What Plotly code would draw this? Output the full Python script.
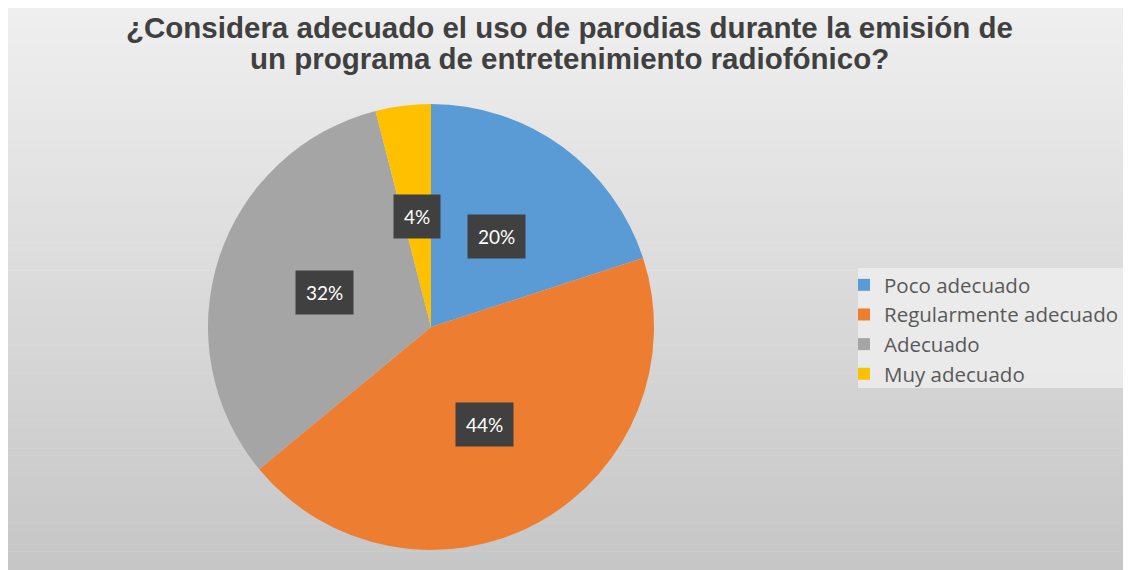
import math
import plotly.graph_objects as go

# data
categories = ['Poco adecuado', 'Regularmente adecuado', 'Adecuado', 'Muy adecuado']
percentages = [20, 44, 32, 4]
slice_colors = ['#5B9BD5', '#ED7D31', '#A5A5A5', '#FFC000']

title_lines = ['¿Considera adecuado el uso de parodias durante la emisión de',
               'un programa de entretenimiento radiofónico?']

# the page body adds an 8px margin, so the figure is 8px smaller
W, H = 1123, 562

# pie geometry in figure pixels
cx, cy, R = 423, 319, 223

fig = go.Figure()

fig.add_trace(
    go.Pie(
        labels=categories,
        values=percentages,
        marker=dict(colors=slice_colors, line=dict(width=0)),
        sort=False,
        direction='clockwise',
        rotation=0,
        textinfo='none',
        hoverinfo='label+percent',
        domain=dict(x=[(cx - R) / W, (cx + R) / W],
                    y=[1 - (cy + R) / H, 1 - (cy - R) / H]),
    )
)

# background: vertical gray gradient
shapes = []
n_bands = 60
c_top, c_bot = 239, 198
for i in range(n_bands):
    y1 = 1 - i / n_bands
    y0 = 1 - (i + 1) / n_bands
    g = round(c_top + (c_bot - c_top) * (i + 0.5) / n_bands)
    shapes.append(dict(type='rect', xref='paper', yref='paper',
                       x0=0, x1=1, y0=y0 - 0.001, y1=y1,
                       fillcolor=f'rgb({g},{g},{g})', line=dict(width=0),
                       layer='below'))

# legend backdrop
shapes.append(dict(type='rect', xref='paper', yref='paper',
                   x0=850 / W, x1=1, y0=1 - 380 / H, y1=1 - 260 / H,
                   fillcolor='rgba(240,240,240,0.75)', line=dict(width=0),
                   layer='below'))

annotations = []

# title, one annotation per line to keep the tight line spacing
for i, line in enumerate(title_lines):
    annotations.append(dict(
        x=0.5, y=1 - (19 + 32 * i) / H, xref='paper', yref='paper',
        text=line, showarrow=False, xanchor='center', yanchor='middle',
        font=dict(family='Liberation Sans', size=29.5, color='#404040', weight='bold'),
    ))

# percentage labels in dark boxes, placed at half radius on each slice's mid angle
total = sum(percentages)
cum = 0
for p in percentages:
    mid = (cum + p / 2) / total * 2 * math.pi
    cum += p
    lx = cx + 0.5 * R * math.sin(mid)
    ly = cy - 0.5 * R * math.cos(mid)
    annotations.append(dict(
        x=lx / W, y=1 - ly / H, xref='paper', yref='paper',
        text=f'{p}%', showarrow=False,
        font=dict(family='Lato', size=19, color='white'),
        bgcolor='#404040', borderpad=10,
        xanchor='center', yanchor='middle',
    ))

fig.update_layout(
    width=W, height=H,
    margin=dict(l=0, r=0, t=0, b=0),
    paper_bgcolor='white',
    plot_bgcolor='rgba(0,0,0,0)',
    showlegend=True,
    legend=dict(x=836 / W, xanchor='left', y=1 - 257 / H, yanchor='top',
                bgcolor='rgba(0,0,0,0)',
                font=dict(family='Open Sans', size=20.5, color='#595959')),
    shapes=shapes,
    annotations=annotations,
)

fig.write_html('out.html')
